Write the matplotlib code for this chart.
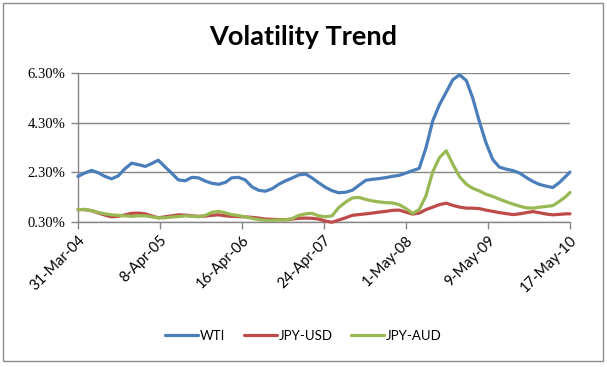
import numpy as np
import pandas as pd
import matplotlib
matplotlib.use("Agg")
import matplotlib.pyplot as plt
from matplotlib.patches import Rectangle
from matplotlib.ticker import FuncFormatter

# month-end observations, plus the final date on the axis
dates = list(pd.date_range("2004-03-31", periods=74, freq="ME")) + [pd.Timestamp("2010-05-17")]

wti = [2.14, 2.27, 2.38, 2.29, 2.14, 2.04, 2.16, 2.45, 2.67, 2.61,
       2.54, 2.65, 2.79, 2.53, 2.27, 2.00, 1.96, 2.10, 2.08, 1.95,
       1.86, 1.82, 1.90, 2.08, 2.10, 2.00, 1.72, 1.58, 1.54, 1.64,
       1.82, 1.96, 2.07, 2.20, 2.23, 2.08, 1.88, 1.70, 1.56, 1.48,
       1.50, 1.58, 1.78, 1.98, 2.02, 2.05, 2.09, 2.14, 2.18, 2.27,
       2.37, 2.46, 3.29, 4.38, 5.02, 5.53, 6.03, 6.23, 5.99, 5.31,
       4.34, 3.49, 2.81, 2.51, 2.43, 2.37, 2.27, 2.09, 1.93, 1.81,
       1.74, 1.69, 1.90, 2.16, 2.31]

jpy_usd = [0.80, 0.80, 0.76, 0.67, 0.58, 0.51, 0.53, 0.59, 0.65, 0.66,
           0.63, 0.55, 0.47, 0.51, 0.55, 0.59, 0.58, 0.55, 0.53, 0.54,
           0.57, 0.59, 0.55, 0.53, 0.52, 0.51, 0.49, 0.46, 0.42, 0.41,
           0.40, 0.39, 0.42, 0.45, 0.46, 0.45, 0.42, 0.34, 0.29, 0.38,
           0.47, 0.57, 0.60, 0.63, 0.66, 0.70, 0.73, 0.77, 0.78, 0.70,
           0.62, 0.66, 0.80, 0.90, 1.00, 1.06, 0.97, 0.90, 0.86, 0.86,
           0.84, 0.78, 0.73, 0.68, 0.64, 0.60, 0.63, 0.68, 0.72, 0.67,
           0.62, 0.59, 0.61, 0.63, 0.63]

jpy_aud = [0.80, 0.81, 0.76, 0.69, 0.63, 0.59, 0.57, 0.55, 0.53, 0.55,
           0.55, 0.51, 0.47, 0.47, 0.50, 0.52, 0.55, 0.53, 0.51, 0.57,
           0.69, 0.73, 0.67, 0.60, 0.56, 0.51, 0.45, 0.40, 0.37, 0.37,
           0.38, 0.39, 0.44, 0.57, 0.63, 0.65, 0.55, 0.51, 0.55, 0.88,
           1.10, 1.27, 1.29, 1.21, 1.15, 1.11, 1.08, 1.07, 1.00, 0.85,
           0.65, 0.80, 1.36, 2.33, 2.89, 3.17, 2.63, 2.12, 1.82, 1.66,
           1.55, 1.42, 1.33, 1.22, 1.12, 1.02, 0.94, 0.87, 0.86, 0.90,
           0.93, 0.96, 1.14, 1.34, 1.49]

series_names = ["WTI", "JPY-USD", "JPY-AUD"]
tick_dates = ["2004-03-31", "2005-04-08", "2006-04-16", "2007-04-24",
              "2008-05-01", "2009-05-09", "2010-05-17"]
tick_labels = ["31-Mar-04", "8-Apr-05", "16-Apr-06", "24-Apr-07",
               "1-May-08", "9-May-09", "17-May-10"]
y_ticks = [0.3, 2.3, 4.3, 6.3]

colors = ["#4A7EBB", "#BE4B48", "#98B954"]
grid_col = "#868686"

fig = plt.figure(figsize=(6.07, 3.67), dpi=100)
ax = fig.add_axes([0.1285, 0.395, 0.8105, 0.406])

for vals, name, c in zip([wti, jpy_usd, jpy_aud], series_names, colors):
    ax.plot(dates, vals, color=c, lw=2.3, label=name, solid_capstyle="round",
            solid_joinstyle="round", clip_on=False, zorder=3)

ax.set_xlim(pd.Timestamp(tick_dates[0]), pd.Timestamp(tick_dates[-1]))
ax.set_ylim(0.3, 6.3)
ax.set_yticks(y_ticks)
ax.yaxis.set_major_formatter(FuncFormatter(lambda v, p: f"{v:.2f}%"))
ax.set_xticks([pd.Timestamp(d) for d in tick_dates])
ax.set_xticklabels(tick_labels, rotation=45, ha="right", rotation_mode="anchor",
                   fontsize=10.5, family="Lato")
for lab in ax.get_yticklabels():
    lab.set_family("Liberation Serif")
    lab.set_fontsize(10.5)

ax.grid(axis="y", color=grid_col, lw=1)
ax.set_axisbelow(True)
for s in ["top", "right"]:
    ax.spines[s].set_visible(False)
for s in ["left", "bottom"]:
    ax.spines[s].set_color(grid_col)
    ax.spines[s].set_linewidth(1)
ax.tick_params(axis="both", direction="out", length=5, color=grid_col, width=1)
ax.tick_params(axis="y", pad=4)
ax.tick_params(axis="x", pad=3)

fig.text(0.5, 0.9, "Volatility Trend", ha="center", va="center",
         fontsize=19.5, fontweight="bold", family="Lato")

fig.legend(loc="center", bbox_to_anchor=(0.5, 0.085), ncol=3, frameon=False,
           handlelength=2.5, columnspacing=1.4, handletextpad=0.15,
           prop={"family": "Lato", "size": 9.5})

fig.patches.append(Rectangle((0.005, 0.016), 0.988, 0.976, transform=fig.transFigure,
                             fill=False, edgecolor="#8c8c8c", lw=1))

fig.savefig("out.png", dpi=100)
